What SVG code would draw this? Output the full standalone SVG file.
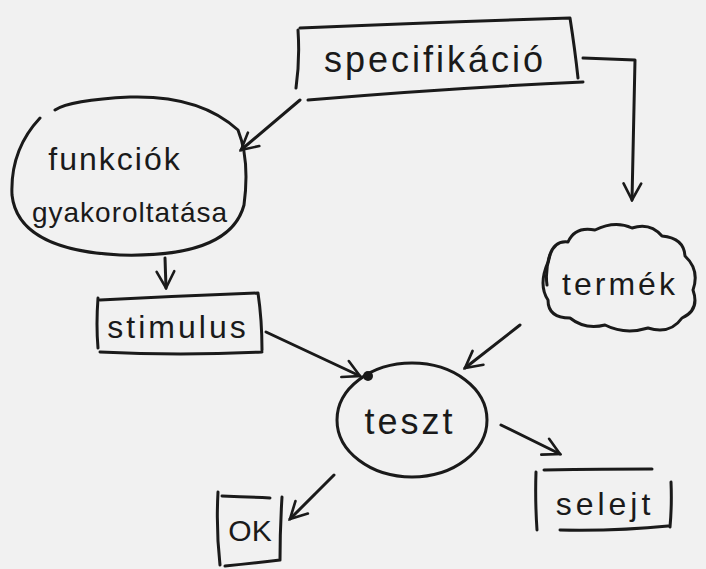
<svg xmlns="http://www.w3.org/2000/svg" width="706" height="569" viewBox="0 0 706 569">
  <style>
    .ink { fill: none; stroke: #1a1a1a; stroke-width: 3; stroke-linecap: round; stroke-linejoin: round; }
    .lbl { font-family: "Liberation Sans", "DejaVu Sans", sans-serif; fill: #1a1a1a; text-anchor: middle; }
  </style>
  <defs>
    <marker id="arr" viewBox="0 0 20 20" refX="18" refY="10" markerWidth="22" markerHeight="22" markerUnits="userSpaceOnUse" orient="auto">
      <path d="M3 2 L18 10 L3 18" fill="none" stroke="#1a1a1a" stroke-width="2.4" stroke-linecap="round"/>
    </marker>
  </defs>
  <rect width="706" height="569" fill="#f1f1f1"/>

  <g id="spec">
    <path class="ink" d="M298 30 Q300 60 296 88 M300 28 Q440 22 570 18 Q575 50 578 78 M308 100 Q450 88 583 82"/>
    <text class="lbl" x="435" y="72" font-size="36" letter-spacing="3">specifikáció</text>
  </g>

  <g id="funkciok">
    <path class="ink" d="M40 118 Q10 150 12 195 Q18 250 120 255 Q230 258 244 205 Q250 160 238 130 Q200 95 130 97 Q70 100 55 110"/>
    <text class="lbl" x="115" y="170" font-size="32" letter-spacing="2">funkciók</text>
    <text class="lbl" x="130" y="222" font-size="28" letter-spacing="1">gyakoroltatása</text>
  </g>

  <g id="stimulus">
    <path class="ink" d="M98 298 Q96 325 98 348 M100 300 Q180 296 258 293 Q262 320 262 350 M100 352 Q180 356 262 352"/>
    <text class="lbl" x="178" y="338" font-size="32" letter-spacing="3">stimulus</text>
  </g>

  <g id="termek">
    <path class="ink" d="M548 262 Q552 240 568 242 Q575 226 595 230 Q615 220 632 228 Q650 222 662 236 Q684 238 685 256 Q700 270 693 290 Q700 310 682 318 Q670 335 648 328 Q625 335 605 325 Q585 330 570 318 Q548 318 548 300 Q538 285 548 262"/>
    <path class="ink" d="M550 255 Q545 270 547 285" stroke-width="5"/>
    <text class="lbl" x="620" y="295" font-size="32" letter-spacing="3">termék</text>
  </g>

  <g id="teszt">
    <ellipse class="ink" cx="412" cy="420" rx="75" ry="57"/>
    <circle cx="368" cy="376" r="5" fill="#1a1a1a"/>
    <text class="lbl" x="410" y="434" font-size="36" letter-spacing="3">teszt</text>
  </g>

  <g id="ok">
    <path class="ink" d="M218 492 Q216 530 220 565 M222 496 Q250 497 270 498 M282 497 Q280 530 280 560 M225 566 Q255 563 280 560"/>
    <text class="lbl" x="250" y="541" font-size="30">OK</text>
  </g>

  <g id="selejt">
    <path class="ink" d="M536 472 Q535 500 537 530 M544 470 Q605 469 652 469 M671 482 Q672 505 670 527 M560 530 Q620 531 668 526"/>
    <text class="lbl" x="605" y="515" font-size="32" letter-spacing="4">selejt</text>
  </g>

  <g id="connectors">
    <path class="ink" d="M300 100 L241 150" marker-end="url(#arr)"/>
    <path class="ink" d="M583 58 L635 60 L632 200" marker-end="url(#arr)"/>
    <path class="ink" d="M165 258 L166 288" marker-end="url(#arr)"/>
    <path class="ink" d="M266 332 L360 376" marker-end="url(#arr)"/>
    <path class="ink" d="M520 325 L465 368" marker-end="url(#arr)"/>
    <path class="ink" d="M334 475 L290 519" marker-end="url(#arr)"/>
    <path class="ink" d="M501 425 L560 454" marker-end="url(#arr)"/>
  </g>
</svg>
